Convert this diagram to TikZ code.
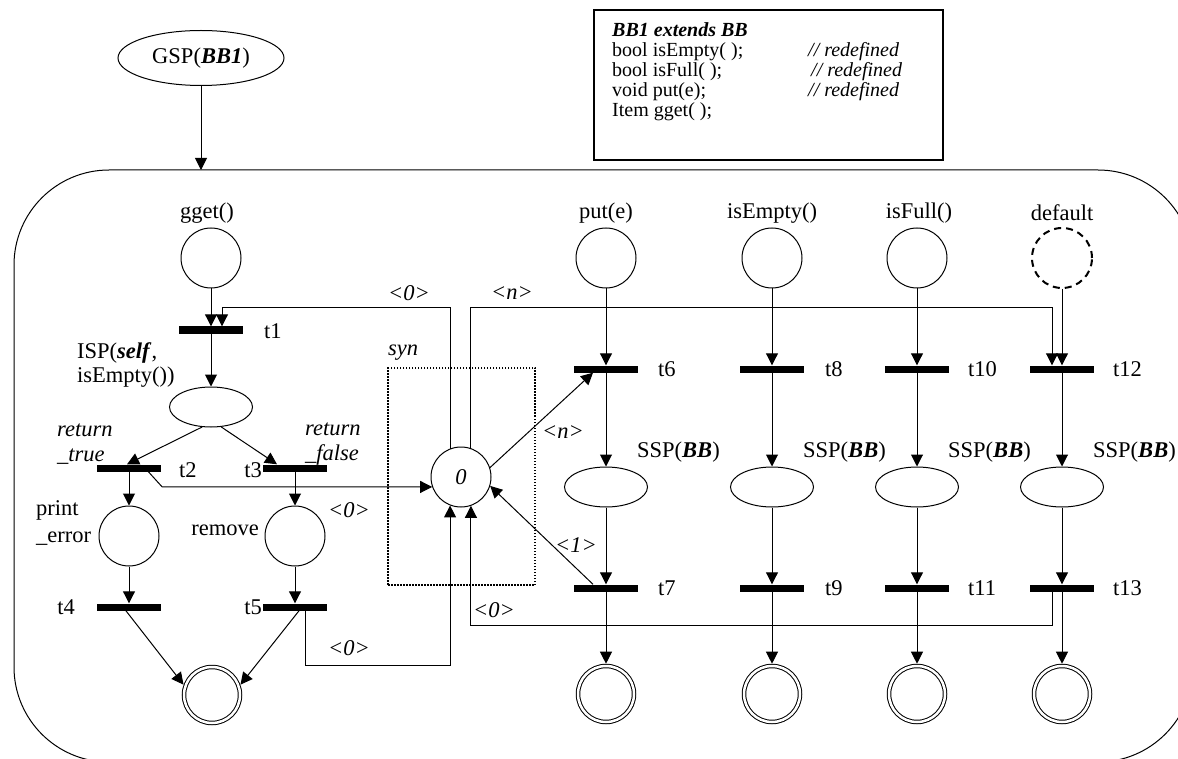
\documentclass[tikz,border=0pt]{standalone}
\usepackage{fontspec}
\setmainfont{Liberation Serif}
\usetikzlibrary{arrows.meta,shapes.geometric,calc}
\begin{document}
\begin{tikzpicture}[x=1pt,y=-1pt,
  every node/.style={font=\fontsize{22.5}{24}\selectfont},
  arr/.style={line width=1pt,-{Triangle[length=12pt,width=12pt]}},
  place/.style={circle,draw,line width=1pt,minimum size=60pt,inner sep=0pt},
  dplace/.style={circle,draw,line width=2pt,dash pattern=on 7pt off 5pt,minimum size=60pt,inner sep=0pt},
  fplace/.style={circle,draw,line width=1pt,double,double distance=2.5pt,minimum size=56pt,inner sep=0pt,outer sep=2.3pt},
  oval/.style={ellipse,draw,line width=1pt,minimum width=83pt,minimum height=40pt,inner sep=0pt},
  bar/.style={rectangle,fill=black,minimum width=64pt,minimum height=7pt,inner sep=0pt},
  lab/.style={inner sep=0pt},
  ]
\useasboundingbox (0,0) rectangle (1178,759);
\clip (0,0) rectangle (1178,759);
% outer frame
\draw[line width=1pt,rounded corners=95pt] (14,170) rectangle (1193,762);
\coordinate (ftop) at (201,170);
% GSP
\node[ellipse,draw,line width=1pt,minimum width=166pt,minimum height=55pt,inner sep=0pt] (gsp) at (201,58) {GSP(\textbf{\textit{BB1}})};
\draw[arr] (gsp) -- (ftop);
% info box
\node[draw,line width=2pt,minimum width=349pt,minimum height=150pt,inner sep=0pt] (box) at (768.5,85) {};
\node[inner sep=0pt,anchor=north west,font=\fontsize{20}{20}\selectfont] (btext) at (612,22)
  {\begin{tabular}{@{}p{196pt}@{}l@{}}
   \multicolumn{2}{@{}l@{}}{\textbf{\textit{BB1 extends BB}}}\\
   bool isEmpty( ); & \textit{// redefined}\\
   bool isFull( ); & \hspace{3pt}\textit{// redefined}\\
   void put(e); & \textit{// redefined}\\
   Item gget( ); & \\
   \end{tabular}};
% syn box
\node[draw,line width=1.5pt,dash pattern=on 1.5pt off 1.5pt,minimum width=147pt,minimum height=217pt,inner sep=0pt] (synbox) at (461.5,476.5) {};
\node[lab,anchor=west] (lsyn) at (388,353) {\textit{syn}};
% left part
\node[place] (pget) at (211,258) {};
\node[bar] (t1) at (211,330) {};
\node[oval] (isp) at (211,407) {};
\node[bar] (t2) at (129,468) {};
\node[bar] (t3) at (295,468) {};
\node[place] (perr) at (129,536) {};
\node[place] (prem) at (295,536) {};
\node[bar] (t4) at (129,607) {};
\node[bar] (t5) at (295,607) {};
\node[fplace] (f1) at (212,695) {};
\node[place] (syn) at (461,477) {\textit{0}};
% right columns
\node[place] (pput) at (606,258) {};
\node[bar] (t6) at (606,369) {};
\node[oval] (s6) at (606,487) {};
\node[bar] (t7) at (606,588) {};
\node[fplace] (f2) at (606,694) {};
\node[place] (pemp) at (772,258) {};
\node[bar] (t8) at (772,369) {};
\node[oval] (s8) at (772,487) {};
\node[bar] (t9) at (772,588) {};
\node[fplace] (f3) at (772,694) {};
\node[place] (pful) at (917,258) {};
\node[bar] (t10) at (917,369) {};
\node[oval] (s10) at (917,487) {};
\node[bar] (t11) at (917,588) {};
\node[fplace] (f4) at (917,694) {};
\node[dplace] (pdef) at (1062,258) {};
\node[bar] (t12) at (1062,369) {};
\node[oval] (s12) at (1062,487) {};
\node[bar] (t13) at (1062,588) {};
\node[fplace] (f5) at (1062,694) {};
% labels
\node[lab] (lgget) at (207,213) {gget()};
\node[lab] (lput) at (606,213) {put(e)};
\node[lab] (lemp) at (772,213) {isEmpty()};
\node[lab] (lful) at (919,213) {isFull()};
\node[lab] (ldef) at (1062,213) {default};
\node[lab,anchor=west] (lt1) at (264,331) {t1};
\node[lab,anchor=west,align=left] (lisp) at (77,365) {ISP(\textbf{\textit{self}},\\isEmpty())};
\node[lab,anchor=west,align=left,font=\fontsize{22.5}{25}\selectfont] (lrt) at (57,444) {\textit{return}\\\textit{\_true}};
\node[lab,anchor=west,align=left,font=\fontsize{22.5}{25}\selectfont] (lrf) at (305,444) {\textit{return}\\\textit{\_false}};
\node[lab,anchor=west] (lt2) at (179,470) {t2};
\node[lab,anchor=east] (lt3) at (262,470) {t3};
\node[lab,anchor=west,align=left,font=\fontsize{22.5}{27}\selectfont] (lerr) at (36,523) {print\\\_error};
\node[lab,anchor=east] (lrem) at (259,530) {remove};
\node[lab,anchor=east] (lt4) at (75,607) {t4};
\node[lab,anchor=east] (lt5) at (262,607) {t5};
\node[lab] (l0a) at (409,293) {\textit{<0>}};
\node[lab] (lna) at (512,293) {\textit{<n>}};
\node[lab,anchor=west] (l0b) at (328,510) {\textit{<0>}};
\node[lab,anchor=west] (l0c) at (328,648) {\textit{<0>}};
\node[lab,anchor=west] (l0d) at (473,610) {\textit{<0>}};
\node[lab,anchor=west] (lnb) at (542,432) {\textit{<n>}};
\node[lab,anchor=west] (l1) at (555,545) {\textit{<1>}};
\node[lab,anchor=west] (lt6) at (658,369) {t6};
\node[lab,anchor=west] (lt7) at (658,588) {t7};
\node[lab,anchor=west] (lt8) at (825,369) {t8};
\node[lab,anchor=west] (lt9) at (825,588) {t9};
\node[lab,anchor=west] (lt10) at (968,369) {t10};
\node[lab,anchor=west] (lt11) at (968,588) {t11};
\node[lab,anchor=west] (lt12) at (1113,369) {t12};
\node[lab,anchor=west] (lt13) at (1113,588) {t13};
\node[lab,anchor=west] (ls6) at (637,452) {SSP(\textbf{\textit{BB}})};
\node[lab,anchor=west] (ls8) at (803,452) {SSP(\textbf{\textit{BB}})};
\node[lab,anchor=west] (ls10) at (948,452) {SSP(\textbf{\textit{BB}})};
\node[lab,anchor=west] (ls12) at (1093,452) {SSP(\textbf{\textit{BB}})};
% arcs left
\draw[arr] (pget) -- (t1);
\draw[arr] (t1) -- (isp);
\draw[arr] (isp.246) -- ([xshift=-2pt]t2.north);
\draw[arr] (isp.297) -- ([xshift=-18pt]t3.north);
\draw[arr] (t2) -- (perr);
\draw[arr] (t3) -- (prem);
\draw[arr] (perr) -- (t4);
\draw[arr] (prem) -- (t5);
\draw[arr] ([xshift=-6pt]t4.center) -- (f1.160);
\draw[arr] ([xshift=7pt]t5.center) -- (f1.20);
\coordinate (j1) at ($(syn.199)+(-270,0)$);
\draw[arr] ([xshift=16pt]t2.center) -- (j1) -- (syn.199);
\coordinate (c0) at (222,308);
\draw[arr] (syn.111) |- (c0) -- (c0 |- t1.north);
\coordinate (cn) at (1052,308);
\draw[arr] (syn.71) |- (cn) -- (cn |- t12.north);
\coordinate (c5) at (syn.249 |- 0,665);
\draw[arr] ([xshift=10pt]t5.center) |- (c5) -- (syn.249);
\coordinate (c13) at (syn.289 |- 0,625);
\draw[arr] ([xshift=-10pt]t13.center) |- (c13) -- (syn.289);
\draw[arr] (syn.18) -- ([xshift=-13pt]t6.south);
\draw[arr] ([xshift=-13pt]t7.north) -- (syn.-17);
% arcs right
\draw[arr] (pput) -- (t6);
\draw[arr] (t6) -- (s6);
\draw[arr] (s6) -- (t7);
\draw[arr] (t7) -- (f2);
\draw[arr] (pemp) -- (t8);
\draw[arr] (t8) -- (s8);
\draw[arr] (s8) -- (t9);
\draw[arr] (t9) -- (f3);
\draw[arr] (pful) -- (t10);
\draw[arr] (t10) -- (s10);
\draw[arr] (s10) -- (t11);
\draw[arr] (t11) -- (f4);
\draw[arr] (pdef) -- (t12);
\draw[arr] (t12) -- (s12);
\draw[arr] (s12) -- (t13);
\draw[arr] (t13) -- (f5);
\end{tikzpicture}
\end{document}
